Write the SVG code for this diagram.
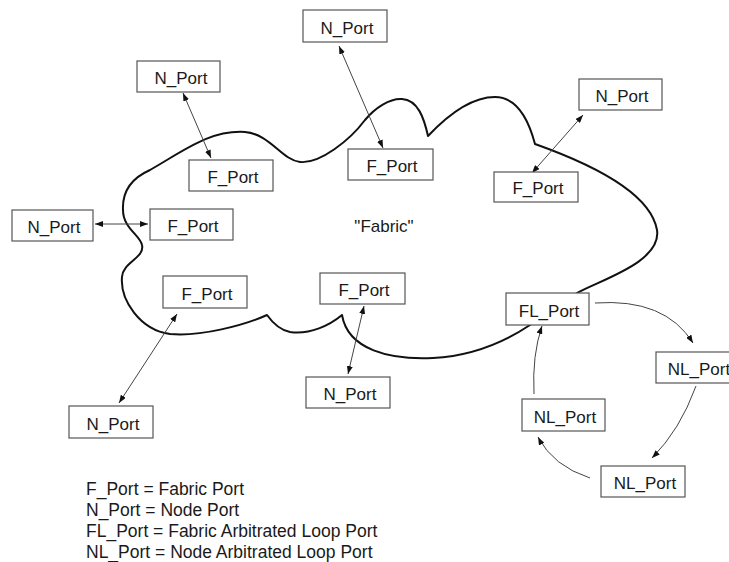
<svg xmlns="http://www.w3.org/2000/svg" width="729" height="562" viewBox="0 0 729 562">
<style>
  .box rect { fill: #ffffff; stroke: #555555; stroke-width: 1.2; }
  .box text, .lbl { font-family: "Liberation Sans", Arial, sans-serif; font-size: 17px; fill: #1a1a1a; text-anchor: middle; }
  .legend { font-family: "Liberation Sans", Arial, sans-serif; font-size: 17.5px; fill: #1a1a1a; }
  .cloud { fill: none; stroke: #111111; stroke-width: 2; stroke-linejoin: round; }
  .link { fill: none; stroke: #444444; stroke-width: 1; }
  .bi { marker-start: url(#ah); marker-end: url(#ah); }
  .uni { marker-end: url(#ah); }
</style>
<defs>
  <marker id="ah" viewBox="0 0 8 6" refX="8" refY="3" markerWidth="8" markerHeight="6" markerUnits="userSpaceOnUse" orient="auto-start-reverse">
    <path d="M0,0 L8,3 L0,6 z" fill="#111111"/>
  </marker>
</defs>
<rect width="729" height="562" fill="#ffffff"/>

<g id="fabric-cloud">
  <path class="cloud" d="M123,210 C122,190 132,178 150,170 C185,150 210,130 245,132 C270,134 282,160 300,162 C320,164 350,140 365,120 C375,108 390,98 402,99 C418,100 424,118 428,136 C445,118 470,97 495,97 C520,97 530,125 535,144 C580,160 650,190 657,230 C662,262 600,280 577,293 L530,325 C500,345 470,356 433,358 C390,360 348,350 342,315 C330,325 310,335 290,332 C280,330 272,322 267,315 C245,325 200,337 170,334 C140,330 120,300 122,277 C123,262 145,258 142,245 C140,235 123,228 123,210 Z"/>
  <text class="lbl" x="384" y="232">"Fabric"</text>
</g>

<g id="connectors">
  <line class="link bi" x1="339" y1="46" x2="383" y2="148"/>
  <line class="link bi" x1="183" y1="93" x2="211" y2="158"/>
  <line class="link bi" x1="95" y1="224" x2="148" y2="224"/>
  <line class="link bi" x1="583" y1="115" x2="532" y2="173"/>
  <line class="link bi" x1="177" y1="314" x2="119" y2="403"/>
  <line class="link bi" x1="364" y1="306" x2="348" y2="374"/>
  <path class="link uni" d="M595,303 Q665,298 693,343"/>
  <path class="link uni" d="M696,386 Q680,430 652,458"/>
  <path class="link uni" d="M590,478 Q553,466 538,437"/>
  <path class="link uni" d="M534,394 Q532,355 542,326"/>
</g>

<g id="n-port-top" class="box"><rect x="303" y="10" width="84" height="32"/><text x="347" y="34">N_Port</text></g>
<g id="n-port-upper-left" class="box"><rect x="137" y="61" width="83" height="31"/><text x="181" y="84">N_Port</text></g>
<g id="f-port-upper-left" class="box"><rect x="189" y="160" width="84" height="31"/><text x="233" y="183">F_Port</text></g>
<g id="n-port-left" class="box"><rect x="12" y="210" width="81" height="31"/><text x="54" y="233">N_Port</text></g>
<g id="f-port-left" class="box"><rect x="150" y="209" width="83" height="31"/><text x="193" y="232">F_Port</text></g>
<g id="f-port-middle" class="box"><rect x="348" y="149" width="85" height="31"/><text x="392" y="172">F_Port</text></g>
<g id="n-port-right" class="box"><rect x="579" y="79" width="83" height="31"/><text x="622" y="102">N_Port</text></g>
<g id="f-port-right" class="box"><rect x="494" y="172" width="84" height="30"/><text x="538" y="194">F_Port</text></g>
<g id="f-port-lower-left" class="box"><rect x="163" y="276" width="84" height="32"/><text x="207" y="300">F_Port</text></g>
<g id="f-port-lower-middle" class="box"><rect x="320" y="273" width="85" height="31"/><text x="364" y="296">F_Port</text></g>
<g id="n-port-lower-left" class="box"><rect x="69" y="406" width="84" height="32"/><text x="113" y="430">N_Port</text></g>
<g id="n-port-lower-middle" class="box"><rect x="306" y="377" width="84" height="31"/><text x="350" y="400">N_Port</text></g>
<g id="fl-port" class="box"><rect x="506" y="293" width="83" height="32"/><text x="549" y="317">FL_Port</text></g>
<g id="nl-port-right" class="box"><rect x="656" y="352" width="83" height="31"/><text x="699" y="375">NL_Port</text></g>
<g id="nl-port-left" class="box"><rect x="522" y="399" width="83" height="32"/><text x="565" y="423">NL_Port</text></g>
<g id="nl-port-bottom" class="box"><rect x="601" y="466" width="84" height="31"/><text x="645" y="489">NL_Port</text></g>

<g id="legend">
  <text class="legend" x="86" y="495">F_Port = Fabric Port</text>
  <text class="legend" x="86" y="516">N_Port = Node Port</text>
  <text class="legend" x="86" y="537">FL_Port = Fabric Arbitrated Loop Port</text>
  <text class="legend" x="86" y="558">NL_Port = Node Arbitrated Loop Port</text>
</g>
</svg>
